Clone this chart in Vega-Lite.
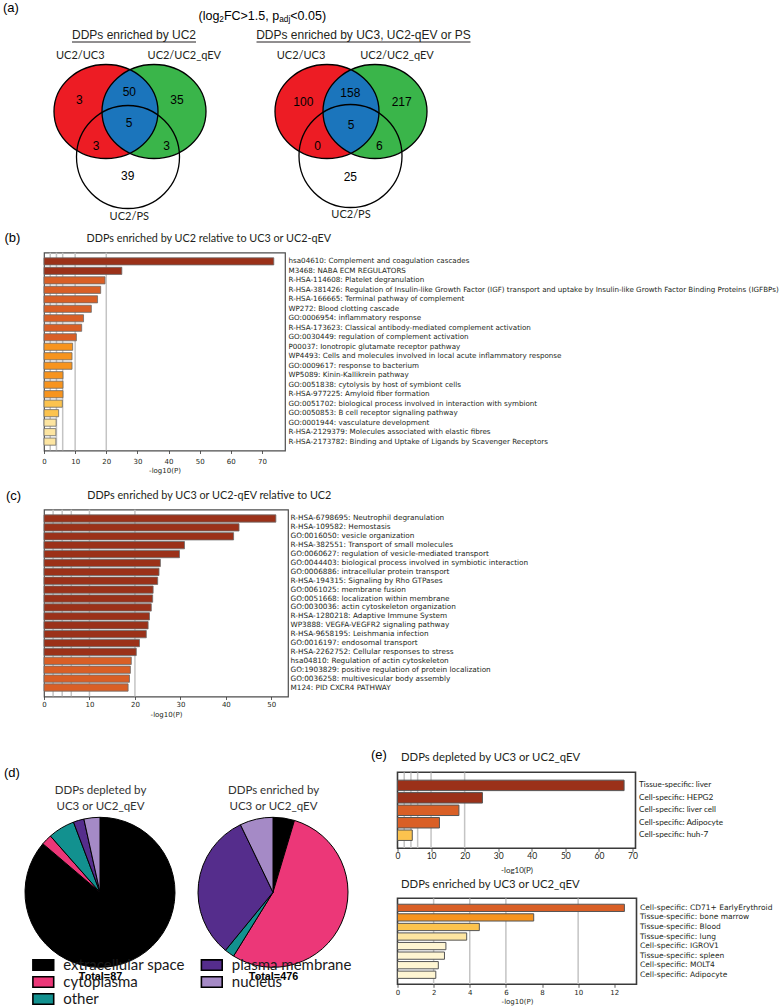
{
  "$schema": "https://vega.github.io/schema/vega-lite/v6.json",
  "padding": {"left": 3, "top": 0, "right": 0, "bottom": 0},
  "background": "white",
  "config": {
    "font": "Lato",
    "view": {"stroke": "#4d4d4d", "strokeWidth": 1.2},
    "title": {"font": "Liberation Sans", "fontWeight": "normal", "color": "#000000", "frame": "group"},
    "axis": {"grid": false}
  },
  "datasets": {
    "cutoffs": [{"v": 2}, {"v": 4}, {"v": 6}, {"v": 10}, {"v": 20}],
    "venn_sets": [
      {"venn": "UC2", "set": "UC2/UC3", "x": 105, "y": 111.5},
      {"venn": "UC2", "set": "UC2/UC2_qEV", "x": 153, "y": 111.5},
      {"venn": "UC2", "set": "UC2/UC3 ∩ UC2/UC2_qEV", "x": 129, "y": 111.5},
      {"venn": "UC2", "set": "UC2/PS", "x": 127, "y": 157},
      {"venn": "UC3", "set": "UC2/UC3", "x": 326, "y": 111.5},
      {"venn": "UC3", "set": "UC2/UC2_qEV", "x": 374, "y": 111.5},
      {"venn": "UC3", "set": "UC2/UC3 ∩ UC2/UC2_qEV", "x": 350, "y": 111.5},
      {"venn": "UC3", "set": "UC2/PS", "x": 349.5, "y": 156}
    ],
    "venn_text": [
      {"kind": "panel", "text": "(a)", "x": 2, "y": 8},
      {"kind": "note", "text": "(log", "x": 197.5, "y": 15.5},
      {"kind": "note_sub", "text": "2", "x": 218.3, "y": 20},
      {"kind": "note", "text": "FC>1.5, p", "x": 222.9, "y": 15.5},
      {"kind": "note_sub", "text": "adj", "x": 278.2, "y": 20},
      {"kind": "note", "text": "<0.05)", "x": 289.3, "y": 15.5},
      {"kind": "header", "text": "DDPs enriched by UC2", "x": 133, "y": 35},
      {"kind": "header", "text": "DDPs enriched by UC3, UC2-qEV or PS", "x": 362.5, "y": 35},
      {"kind": "set", "text": "UC2/UC3", "x": 79.3, "y": 55.7},
      {"kind": "set", "text": "UC2/UC2_qEV", "x": 183.3, "y": 55.7},
      {"kind": "set", "text": "UC2/PS", "x": 128.3, "y": 216.5},
      {"kind": "set", "text": "UC2/UC3", "x": 300, "y": 55.7},
      {"kind": "set", "text": "UC2/UC2_qEV", "x": 396, "y": 55.7},
      {"kind": "set", "text": "UC2/PS", "x": 350, "y": 214.5},
      {"kind": "count", "text": "3", "x": 78.3, "y": 100},
      {"kind": "count", "text": "50", "x": 128.3, "y": 92.3},
      {"kind": "count", "text": "35", "x": 176, "y": 100},
      {"kind": "count", "text": "5", "x": 128, "y": 123.3},
      {"kind": "count", "text": "3", "x": 95, "y": 146},
      {"kind": "count", "text": "3", "x": 165.7, "y": 146},
      {"kind": "count", "text": "39", "x": 126.7, "y": 176},
      {"kind": "count", "text": "100", "x": 302.3, "y": 102.3},
      {"kind": "count", "text": "158", "x": 349.3, "y": 92.7},
      {"kind": "count", "text": "217", "x": 400.7, "y": 102.3},
      {"kind": "count", "text": "5", "x": 350, "y": 125},
      {"kind": "count", "text": "0", "x": 316.7, "y": 146},
      {"kind": "count", "text": "6", "x": 378.3, "y": 146},
      {"kind": "count", "text": "25", "x": 349.3, "y": 176.7}
    ],
    "venn_underline": [
      {"x": 71, "x2": 195, "y": 42},
      {"x": 255.5, "x2": 469.5, "y": 42}
    ],
    "b_terms": [
      {"term": "hsa04610: Complement and coagulation cascades", "logp": 73.8},
      {"term": "M3468: NABA ECM REGULATORS", "logp": 25.0},
      {"term": "R-HSA-114608: Platelet degranulation", "logp": 19.6},
      {"term": "R-HSA-381426: Regulation of Insulin-like Growth Factor (IGF) transport and uptake by Insulin-like Growth Factor Binding Proteins (IGFBPs)", "logp": 18.2},
      {"term": "R-HSA-166665: Terminal pathway of complement", "logp": 17.2},
      {"term": "WP272: Blood clotting cascade", "logp": 15.2},
      {"term": "GO:0006954: inflammatory response", "logp": 12.7},
      {"term": "R-HSA-173623: Classical antibody-mediated complement activation", "logp": 12.1},
      {"term": "GO:0030449: regulation of complement activation", "logp": 10.4},
      {"term": "P00037: Ionotropic glutamate receptor pathway", "logp": 9.2},
      {"term": "WP4493: Cells and molecules involved in local acute inflammatory response", "logp": 9.0},
      {"term": "GO:0009617: response to bacterium", "logp": 9.0},
      {"term": "WP5089: Kinin-Kallikrein pathway", "logp": 6.1},
      {"term": "GO:0051838: cytolysis by host of symbiont cells", "logp": 6.1},
      {"term": "R-HSA-977225: Amyloid fiber formation", "logp": 6.1},
      {"term": "GO:0051702: biological process involved in interaction with symbiont", "logp": 5.9},
      {"term": "GO:0050853: B cell receptor signaling pathway", "logp": 4.7},
      {"term": "GO:0001944: vasculature development", "logp": 3.9},
      {"term": "R-HSA-2129379: Molecules associated with elastic fibres", "logp": 3.8},
      {"term": "R-HSA-2173782: Binding and Uptake of Ligands by Scavenger Receptors", "logp": 3.8}
    ],
    "c_terms": [
      {"term": "R-HSA-6798695: Neutrophil degranulation", "logp": 51.0},
      {"term": "R-HSA-109582: Hemostasis", "logp": 42.9},
      {"term": "GO:0016050: vesicle organization", "logp": 41.7},
      {"term": "R-HSA-382551: Transport of small molecules", "logp": 30.9},
      {"term": "GO:0060627: regulation of vesicle-mediated transport", "logp": 29.8},
      {"term": "GO:0044403: biological process involved in symbiotic interaction", "logp": 25.6},
      {"term": "GO:0006886: intracellular protein transport", "logp": 25.3},
      {"term": "R-HSA-194315: Signaling by Rho GTPases", "logp": 25.0},
      {"term": "GO:0061025: membrane fusion", "logp": 24.0},
      {"term": "GO:0051668: localization within membrane", "logp": 23.9},
      {"term": "GO:0030036: actin cytoskeleton organization", "logp": 23.6},
      {"term": "R-HSA-1280218: Adaptive Immune System", "logp": 23.2},
      {"term": "WP3888: VEGFA-VEGFR2 signaling pathway", "logp": 22.9},
      {"term": "R-HSA-9658195: Leishmania infection", "logp": 22.5},
      {"term": "GO:0016197: endosomal transport", "logp": 21.0},
      {"term": "R-HSA-2262752: Cellular responses to stress", "logp": 20.3},
      {"term": "hsa04810: Regulation of actin cytoskeleton", "logp": 19.2},
      {"term": "GO:1903829: positive regulation of protein localization", "logp": 19.0},
      {"term": "GO:0036258: multivesicular body assembly", "logp": 18.8},
      {"term": "M124: PID CXCR4 PATHWAY", "logp": 18.5}
    ],
    "e1_terms": [
      {"term": "Tissue-specific: liver", "logp": 67.5},
      {"term": "Cell-specific: HEPG2", "logp": 25.3},
      {"term": "Cell-specific: liver cell", "logp": 18.3},
      {"term": "Cell-specific: Adipocyte", "logp": 12.5},
      {"term": "Cell-specific: huh-7", "logp": 4.4}
    ],
    "e2_terms": [
      {"term": "Cell-specific: CD71+ EarlyErythroid", "logp": 12.56},
      {"term": "Tissue-specific: bone marrow", "logp": 7.54},
      {"term": "Tissue-specific: Blood", "logp": 4.53},
      {"term": "Tissue-specific: lung", "logp": 3.83},
      {"term": "Cell-specific: IGROV1", "logp": 2.68},
      {"term": "Tissue-specific: spleen", "logp": 2.6},
      {"term": "Cell-specific: MOLT4", "logp": 2.26},
      {"term": "Cell-specific: Adipocyte", "logp": 2.12}
    ],
    "pies": [
      {"pie": "depleted", "loc": "extracellular space", "n": 75},
      {"pie": "depleted", "loc": "cytoplasma", "n": 2},
      {"pie": "depleted", "loc": "other", "n": 5},
      {"pie": "depleted", "loc": "plasma membrane", "n": 2},
      {"pie": "depleted", "loc": "nucleus", "n": 3},
      {"pie": "enriched", "loc": "extracellular space", "n": 22},
      {"pie": "enriched", "loc": "cytoplasma", "n": 258},
      {"pie": "enriched", "loc": "other", "n": 10},
      {"pie": "enriched", "loc": "plasma membrane", "n": 152},
      {"pie": "enriched", "loc": "nucleus", "n": 34}
    ]
  },
  "spacing": 13.5,
  "vconcat": [
    {
      "spacing": 4.5,
      "vconcat": [
        {
          "width": 400,
          "height": 226,
          "view": {"stroke": null},
          "encoding": {
            "x": {"field": "x", "type": "quantitative", "scale": {"domain": [43, 443], "nice": false, "zero": false}, "axis": null},
            "y": {"field": "y", "type": "quantitative", "scale": {"domain": [0, 226], "nice": false, "zero": false, "reverse": true}, "axis": null}
          },
          "layer": [
            {
              "data": {"name": "venn_sets"},
              "transform": [{"filter": {"field": "set", "equal": "UC2/UC3"}}],
              "mark": {"type": "point", "shape": "M -1 0 A 1 0.904 0 1 1 1 0 A 1 0.904 0 1 1 -1 0 Z", "size": 10816, "filled": true, "fill": "#ed1c24", "strokeWidth": 0, "opacity": 1}
            },
            {
              "data": {"name": "venn_sets"},
              "transform": [{"filter": {"field": "set", "equal": "UC2/UC2_qEV"}}],
              "mark": {"type": "point", "shape": "M -1 0 A 1 0.904 0 1 1 1 0 A 1 0.904 0 1 1 -1 0 Z", "size": 10816, "filled": true, "fill": "#3ab54a", "strokeWidth": 0, "opacity": 1}
            },
            {
              "data": {"name": "venn_sets"},
              "transform": [{"filter": {"field": "set", "equal": "UC2/UC3 ∩ UC2/UC2_qEV"}}],
              "mark": {"type": "point", "shape": "M 0 -0.802 A 1 0.904 0 0 1 0 0.802 A 1 0.904 0 0 1 0 -0.802 Z", "size": 10816, "filled": true, "fill": "#1b75bc", "strokeWidth": 0, "opacity": 1}
            },
            {
              "data": {"name": "venn_sets"},
              "transform": [{"filter": {"field": "set", "equal": "UC2/PS"}}],
              "mark": {"type": "point", "shape": "circle", "size": 10609, "filled": false, "stroke": "#000000", "strokeWidth": 1.3, "opacity": 1}
            },
            {
              "data": {"name": "venn_sets"},
              "transform": [{"filter": {"field": "set", "oneOf": ["UC2/UC3", "UC2/UC2_qEV"]}}],
              "mark": {"type": "point", "shape": "M -1 0 A 1 0.904 0 1 1 1 0 A 1 0.904 0 1 1 -1 0 Z", "size": 10816, "filled": false, "stroke": "#000000", "strokeWidth": 1.3, "opacity": 1}
            },
            {
              "data": {"name": "venn_underline"},
              "mark": {"type": "rule", "color": "#231f20", "strokeWidth": 1},
              "encoding": {"x2": {"field": "x2"}}
            },
            {
              "data": {"name": "venn_text"},
              "transform": [{"filter": {"field": "kind", "equal": "count"}}],
              "mark": {"type": "text", "font": "Liberation Sans", "fontSize": 12, "align": "center", "baseline": "middle", "color": "#000000"},
              "encoding": {"text": {"field": "text", "type": "nominal"}}
            },
            {
              "data": {"name": "venn_text"},
              "transform": [{"filter": {"field": "kind", "equal": "set"}}],
              "mark": {"type": "text", "font": "Lato", "fontSize": 11, "align": "center", "baseline": "middle", "color": "#231f20"},
              "encoding": {"text": {"field": "text", "type": "nominal"}}
            },
            {
              "data": {"name": "venn_text"},
              "transform": [{"filter": {"field": "kind", "equal": "header"}}],
              "mark": {"type": "text", "font": "Liberation Sans", "fontSize": 12, "align": "center", "baseline": "middle", "color": "#231f20"},
              "encoding": {"text": {"field": "text", "type": "nominal"}}
            },
            {
              "data": {"name": "venn_text"},
              "transform": [{"filter": {"field": "kind", "equal": "note"}}],
              "mark": {"type": "text", "font": "Liberation Sans", "fontSize": 12.5, "align": "left", "baseline": "middle", "color": "#000000"},
              "encoding": {"text": {"field": "text", "type": "nominal"}}
            },
            {
              "data": {"name": "venn_text"},
              "transform": [{"filter": {"field": "kind", "equal": "note_sub"}}],
              "mark": {"type": "text", "font": "Liberation Sans", "fontSize": 8.3, "align": "left", "baseline": "middle", "color": "#000000"},
              "encoding": {"text": {"field": "text", "type": "nominal"}}
            },
            {
              "data": {"name": "venn_text"},
              "transform": [{"filter": {"field": "kind", "equal": "panel"}}],
              "mark": {"type": "text", "font": "Liberation Sans", "fontSize": 13, "align": "left", "baseline": "middle", "color": "#000000"},
              "encoding": {"text": {"field": "text", "type": "nominal"}}
            }
          ]
        },
        {
          "width": 241,
          "height": 198,
          "layer": [
            {
              "data": {"name": "cutoffs"},
              "mark": {"type": "rule", "color": "#c4c4c4", "strokeWidth": 1.5, "clip": true},
              "encoding": {
                "x": {"field": "v", "type": "quantitative", "scale": {"domain": [0, 77.4], "nice": false},
                  "axis": {"orient": "top", "labels": false, "ticks": false, "domain": false, "grid": false, "title": "DDPs enriched by UC2 relative to UC3 or UC2-qEV", "titleX": 42, "titleY": -14, "titleAlign": "left", "titleBaseline": "middle", "titleAngle": 0, "titleFont": "Lato", "titleFontSize": 10.8, "titleFontWeight": "normal", "titleColor": "#231f20"}}
              }
            },
            {
              "data": {"name": "b_terms"},
              "mark": {"type": "bar", "stroke": "#6b6b6b", "strokeWidth": 0.8},
              "encoding": {
                "x": {"field": "logp", "type": "quantitative", "scale": {"domain": [0, 77.4], "nice": false},
                  "axis": {"orient": "bottom", "values": [0, 10, 20, 30, 40, 50, 60, 70], "format": "d", "title": "-log10(P)", "domain": false, "grid": false, "tickSize": 3, "tickColor": "#333333", "tickWidth": 0.8, "labelFont": "DejaVu Sans", "labelFontSize": 7, "labelColor": "#231f20", "labelPadding": 4, "labelFlush": false, "titleFont": "DejaVu Sans", "titleFontSize": 7, "titleFontWeight": "normal", "titleColor": "#231f20", "titlePadding": 2}},
                "y": {"field": "term", "type": "nominal", "sort": null, "scale": {"paddingInner": 0.25, "paddingOuter": 0.56},
                  "axis": {"orient": "right", "ticks": false, "domain": false, "grid": false, "labelFont": "DejaVu Sans", "labelFontSize": 7.15, "labelColor": "#231f20", "labelLimit": 1000, "labelPadding": 3, "labelOverlap": false, "title": "(b)", "titleX": -281, "titleY": -15, "titleAlign": "left", "titleBaseline": "middle", "titleAngle": 0, "titleFont": "Liberation Sans", "titleFontSize": 13, "titleFontWeight": "normal", "titleColor": "#000000"}},
                "fill": {"field": "logp", "type": "quantitative", "scale": {"type": "threshold", "domain": [3, 4, 6, 10, 20], "range": ["#fef5d2", "#fde5a1", "#fcc34e", "#f7941e", "#d95f26", "#9b3119"]}, "legend": null}
              }
            }
          ]
        }
      ]
    },
    {
      "spacing": 28.8,
      "vconcat": [
        {
          "width": 244,
          "height": 187,
          "layer": [
            {
              "data": {"name": "cutoffs"},
              "mark": {"type": "rule", "color": "#c4c4c4", "strokeWidth": 1.5, "clip": true},
              "encoding": {
                "x": {"field": "v", "type": "quantitative", "scale": {"domain": [0, 53.67], "nice": false},
                  "axis": {"orient": "top", "labels": false, "ticks": false, "domain": false, "grid": false, "title": "DDPs enriched by UC3 or UC2-qEV relative to UC2", "titleX": 42.7, "titleY": -13.7, "titleAlign": "left", "titleBaseline": "middle", "titleAngle": 0, "titleFont": "Lato", "titleFontSize": 10.8, "titleFontWeight": "normal", "titleColor": "#231f20"}}
              }
            },
            {
              "data": {"name": "c_terms"},
              "mark": {"type": "bar", "stroke": "#6b6b6b", "strokeWidth": 0.8},
              "encoding": {
                "x": {"field": "logp", "type": "quantitative", "scale": {"domain": [0, 53.67], "nice": false},
                  "axis": {"orient": "bottom", "values": [0, 10, 20, 30, 40, 50], "format": "d", "title": "-log10(P)", "domain": false, "grid": false, "tickSize": 3, "tickColor": "#333333", "tickWidth": 0.8, "labelFont": "DejaVu Sans", "labelFontSize": 7, "labelColor": "#231f20", "labelPadding": 1, "labelFlush": false, "titleFont": "DejaVu Sans", "titleFontSize": 7, "titleFontWeight": "normal", "titleColor": "#231f20", "titlePadding": 3}},
                "y": {"field": "term", "type": "nominal", "sort": null, "scale": {"paddingInner": 0.18, "paddingOuter": 0.6},
                  "axis": {"orient": "right", "ticks": false, "domain": false, "grid": false, "labelFont": "DejaVu Sans", "labelFontSize": 7.3, "labelColor": "#231f20", "labelLimit": 1000, "labelPadding": 2, "labelOverlap": false, "title": "(c)", "titleX": -282.5, "titleY": -13.7, "titleAlign": "left", "titleBaseline": "middle", "titleAngle": 0, "titleFont": "Liberation Sans", "titleFontSize": 13, "titleFontWeight": "normal", "titleColor": "#000000"}},
                "fill": {"field": "logp", "type": "quantitative", "scale": {"type": "threshold", "domain": [3, 4, 6, 10, 20], "range": ["#fef5d2", "#fde5a1", "#fcc34e", "#f7941e", "#d95f26", "#9b3119"]}, "legend": null}
              }
            }
          ]
        },
        {
          "spacing": 19.5,
          "hconcat": [
            {
              "spacing": 18,
              "hconcat": [
                {
                  "width": 112,
                  "height": 240,
                  "view": {"stroke": null},
                  "title": {"text": "(d)", "anchor": "start", "dx": -40, "offset": 0, "baseline": "middle", "dy": 16, "fontSize": 13},
                  "layer": [
                    {
                      "data": {"name": "pies"},
                      "transform": [{"filter": {"field": "pie", "equal": "depleted"}}, {"window": [{"op": "row_number", "as": "rank"}]}],
                      "mark": {"type": "arc", "outerRadius": 75, "stroke": "#000000", "strokeWidth": 1},
                      "encoding": {
                        "theta": {"field": "n", "type": "quantitative", "stack": true},
                        "order": {"field": "rank", "type": "quantitative"},
                        "color": {"field": "loc", "type": "nominal",
                          "scale": {"domain": ["extracellular space", "cytoplasma", "other", "plasma membrane", "nucleus"], "range": ["#000000", "#ec3778", "#12918f", "#552d8c", "#a58ac6"]},
                          "legend": {"orient": "none", "legendX": -8.2, "legendY": 957.5, "columns": 2, "title": null, "symbolType": "M -1.6 -0.8 H 1.6 V 0.8 H -1.6 Z", "symbolSize": 169, "symbolStrokeColor": "#000000", "symbolStrokeWidth": 1.6, "symbolOpacity": 1, "labelFont": "Lato", "labelFontSize": 15, "labelOffset": 12.5, "labelColor": "#1a1a1a", "rowPadding": 0, "columnPadding": 12.5, "labelLimit": 300}}
                      }
                    },
                    {
                      "data": {"values": [{"k": 0}]},
                      "mark": {"type": "point", "opacity": 0},
                      "encoding": {
                        "x": {"datum": 0, "type": "quantitative", "axis": {"labels": false, "ticks": false, "domain": false, "grid": false, "title": "Total=87", "titleX": 56, "titleY": -36, "titleAlign": "center", "titleBaseline": "middle", "titleFont": "Liberation Sans", "titleFontWeight": "bold", "titleFontSize": 10.8, "titleColor": "#000000"}},
                        "y": {"datum": 0, "type": "quantitative", "axis": {"labels": false, "ticks": false, "domain": false, "grid": false, "title": ["DDPs depleted by", "UC3 or UC2_qEV"], "titleX": 56, "titleY": 18.5, "titleAlign": "center", "titleBaseline": "middle", "titleAngle": 0, "titleLineHeight": 15.6, "titleFont": "Lato", "titleFontWeight": "normal", "titleFontSize": 11.5, "titleColor": "#333333"}}
                      }
                    }
                  ]
                },
                {
                  "width": 150,
                  "height": 240,
                  "view": {"stroke": null},
                  "layer": [
                    {
                      "data": {"name": "pies"},
                      "transform": [{"filter": {"field": "pie", "equal": "enriched"}}, {"window": [{"op": "row_number", "as": "rank"}]}],
                      "mark": {"type": "arc", "outerRadius": 75, "stroke": "#000000", "strokeWidth": 1},
                      "encoding": {
                        "theta": {"field": "n", "type": "quantitative", "stack": true},
                        "order": {"field": "rank", "type": "quantitative"},
                        "color": {"field": "loc", "type": "nominal",
                          "scale": {"domain": ["extracellular space", "cytoplasma", "other", "plasma membrane", "nucleus"], "range": ["#000000", "#ec3778", "#12918f", "#552d8c", "#a58ac6"]},
                          "legend": {"orient": "none", "legendX": -8.2, "legendY": 957.5, "columns": 2, "title": null, "symbolType": "M -1.6 -0.8 H 1.6 V 0.8 H -1.6 Z", "symbolSize": 169, "symbolStrokeColor": "#000000", "symbolStrokeWidth": 1.6, "symbolOpacity": 1, "labelFont": "Lato", "labelFontSize": 15, "labelOffset": 12.5, "labelColor": "#1a1a1a", "rowPadding": 0, "columnPadding": 12.5, "labelLimit": 300}}
                      }
                    },
                    {
                      "data": {"values": [{"k": 0}]},
                      "mark": {"type": "point", "opacity": 0},
                      "encoding": {
                        "x": {"datum": 0, "type": "quantitative", "axis": {"labels": false, "ticks": false, "domain": false, "grid": false, "title": "Total=476", "titleX": 75, "titleY": -36, "titleAlign": "center", "titleBaseline": "middle", "titleFont": "Liberation Sans", "titleFontWeight": "bold", "titleFontSize": 10.8, "titleColor": "#000000"}},
                        "y": {"datum": 0, "type": "quantitative", "axis": {"labels": false, "ticks": false, "domain": false, "grid": false, "title": ["DDPs enriched by", "UC3 or UC2_qEV"], "titleX": 75, "titleY": 18.5, "titleAlign": "center", "titleBaseline": "middle", "titleAngle": 0, "titleLineHeight": 15.6, "titleFont": "Lato", "titleFontWeight": "normal", "titleFontSize": 11.5, "titleColor": "#333333"}}
                      }
                    }
                  ]
                }
              ]
            },
            {
              "spacing": 2,
              "vconcat": [
                {
                  "width": 238,
                  "height": 76,
                  "view": {"stroke": "#3a3a3a", "strokeWidth": 1.6},
                  "layer": [
                    {
                      "data": {"name": "cutoffs"},
                      "mark": {"type": "rule", "color": "#c4c4c4", "strokeWidth": 1.5, "clip": true},
                      "encoding": {
                        "x": {"field": "v", "type": "quantitative", "scale": {"domain": [0, 70.9], "nice": false},
                          "axis": {"orient": "top", "labels": false, "ticks": false, "domain": false, "grid": false, "title": "DDPs depleted by UC3 or UC2_qEV", "titleX": 3, "titleY": -15.3, "titleAlign": "left", "titleBaseline": "middle", "titleAngle": 0, "titleFont": "Lato", "titleFontSize": 11.3, "titleFontWeight": "normal", "titleColor": "#231f20"}}
                      }
                    },
                    {
                      "data": {"name": "e1_terms"},
                      "mark": {"type": "bar", "stroke": "#555555", "strokeWidth": 1},
                      "encoding": {
                        "x": {"field": "logp", "type": "quantitative", "scale": {"domain": [0, 70.9], "nice": false},
                          "axis": {"orient": "bottom", "values": [0, 10, 20, 30, 40, 50, 60, 70], "format": "d", "title": "-log10(P)", "domain": false, "grid": false, "tickSize": 3, "tickColor": "#333333", "tickWidth": 0.8, "labelFont": "Lato", "labelFontSize": 8.5, "labelColor": "#231f20", "labelPadding": 0.5, "labelFlush": false, "titleFont": "Lato", "titleFontSize": 8, "titleFontWeight": "normal", "titleColor": "#231f20", "titlePadding": 6}},
                        "y": {"field": "term", "type": "nominal", "sort": null, "scale": {"paddingInner": 0.16, "paddingOuter": 0.63},
                          "axis": {"orient": "right", "ticks": false, "domain": false, "grid": false, "labelFont": "Lato", "labelFontSize": 8.2, "labelColor": "#231f20", "labelLimit": 1000, "labelPadding": 3, "labelOverlap": false, "title": "(e)", "titleX": -265, "titleY": -18, "titleAlign": "left", "titleBaseline": "middle", "titleAngle": 0, "titleFont": "Liberation Sans", "titleFontSize": 13, "titleFontWeight": "normal", "titleColor": "#000000"}},
                        "fill": {"field": "logp", "type": "quantitative", "scale": {"type": "threshold", "domain": [3, 4, 6, 10, 20], "range": ["#fef5d2", "#fde5a1", "#fcc34e", "#f7941e", "#d95f26", "#9b3119"]}, "legend": null}
                      }
                    }
                  ]
                },
                {
                  "width": 239,
                  "height": 86,
                  "view": {"stroke": "#3a3a3a", "strokeWidth": 1.6},
                  "layer": [
                    {
                      "data": {"name": "cutoffs"},
                      "mark": {"type": "rule", "color": "#c4c4c4", "strokeWidth": 1.5, "clip": true},
                      "encoding": {
                        "x": {"field": "v", "type": "quantitative", "scale": {"domain": [0, 13.23], "nice": false},
                          "axis": {"orient": "top", "labels": false, "ticks": false, "domain": false, "grid": false, "title": "DDPs enriched by UC3 or UC2_qEV", "titleX": 3, "titleY": -13.7, "titleAlign": "left", "titleBaseline": "middle", "titleAngle": 0, "titleFont": "Lato", "titleFontSize": 11.3, "titleFontWeight": "normal", "titleColor": "#231f20"}}
                      }
                    },
                    {
                      "data": {"name": "e2_terms"},
                      "mark": {"type": "bar", "stroke": "#555555", "strokeWidth": 1},
                      "encoding": {
                        "x": {"field": "logp", "type": "quantitative", "scale": {"domain": [0, 13.23], "nice": false},
                          "axis": {"orient": "bottom", "values": [0, 2, 4, 6, 8, 10, 12], "format": "d", "title": "-log10(P)", "domain": false, "grid": false, "tickSize": 3, "tickColor": "#333333", "tickWidth": 0.8, "labelFont": "DejaVu Sans", "labelFontSize": 7, "labelColor": "#231f20", "labelPadding": 1.5, "labelFlush": false, "titleFont": "DejaVu Sans", "titleFontSize": 7, "titleFontWeight": "normal", "titleColor": "#231f20", "titlePadding": 2}},
                        "y": {"field": "term", "type": "nominal", "sort": null, "scale": {"paddingInner": 0.24, "paddingOuter": 0.62},
                          "axis": {"orient": "right", "title": null, "ticks": false, "domain": false, "grid": false, "labelFont": "DejaVu Sans", "labelFontSize": 7.5, "labelColor": "#231f20", "labelLimit": 1000, "labelPadding": 3, "labelOverlap": false}},
                        "fill": {"field": "logp", "type": "quantitative", "scale": {"type": "threshold", "domain": [3, 4, 6, 10, 20], "range": ["#fef5d2", "#fde5a1", "#fcc34e", "#f7941e", "#d95f26", "#9b3119"]}, "legend": null}
                      }
                    }
                  ]
                }
              ]
            }
          ]
        }
      ]
    }
  ]
}
